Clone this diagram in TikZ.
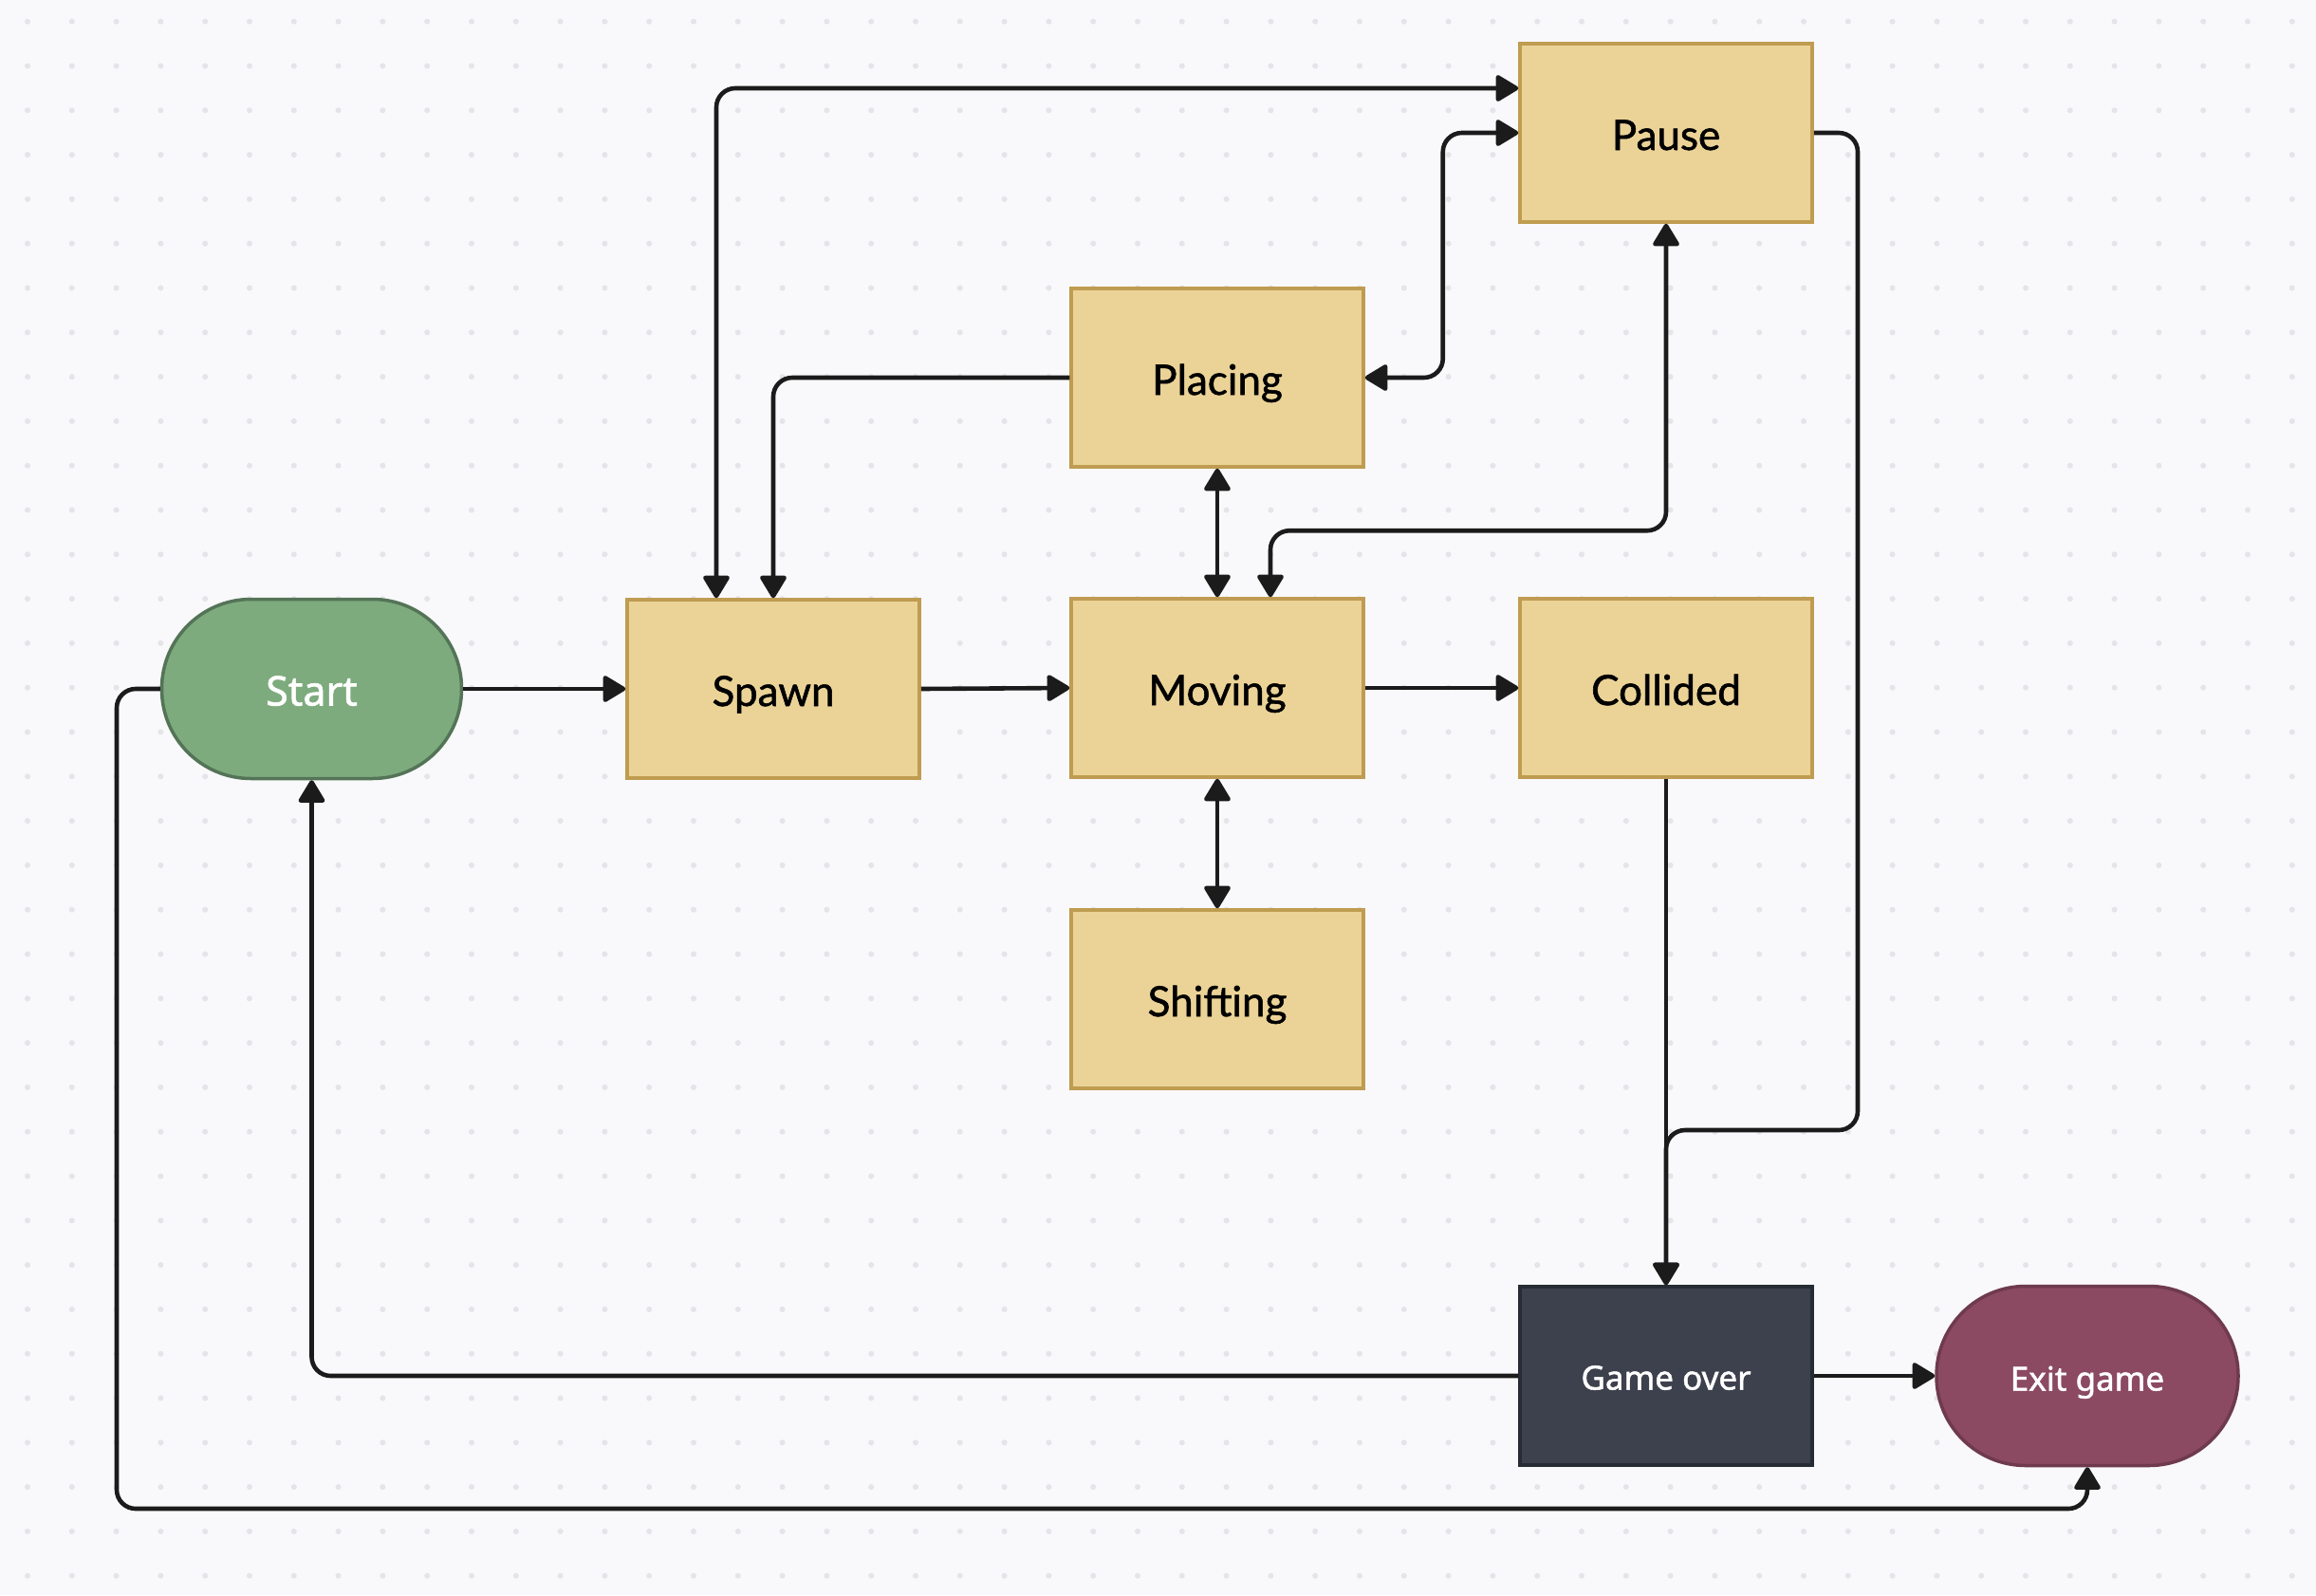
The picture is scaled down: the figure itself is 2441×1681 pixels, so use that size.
\documentclass[tikz,border=0pt]{standalone}
\usepackage{fontspec}
\usetikzlibrary{arrows.meta}
\newfontfamily\latofont{Lato}[FakeBold=1.3]
\newfontfamily\notofont{Noto Sans}[FakeBold=1.4]
\definecolor{bgc}{HTML}{F9F9FB}
\definecolor{dotc}{HTML}{E4E4E9}
\definecolor{goldfill}{HTML}{EBD397}
\definecolor{goldline}{HTML}{BF9C51}
\definecolor{startfill}{HTML}{7EAB7E}
\definecolor{startline}{HTML}{547457}
\definecolor{gofill}{HTML}{3D414D}
\definecolor{goline}{HTML}{272B33}
\definecolor{exitfill}{HTML}{8B4A62}
\definecolor{exitline}{HTML}{6F3A4E}
\definecolor{linec}{HTML}{1B1B1B}
\tikzset{
  statebox/.style={rectangle, draw=goldline, fill=goldfill, line width=3.5pt,
    minimum width=308pt, minimum height=188pt, inner sep=0pt,
    text height=36pt, text depth=0pt,
    font=\latofont\fontsize{44}{50}\selectfont, text=black},
  termbox/.style={rectangle, rounded corners=94pt, line width=3.5pt,
    minimum width=316pt, minimum height=189pt, inner sep=0pt, text=white},
  darkbox/.style={rectangle, draw=goline, fill=gofill, line width=3.5pt,
    minimum width=308pt, minimum height=188pt, inner sep=0pt, text=white,
    text height=29pt, text depth=0pt,
    font=\notofont\fontsize{35}{42}\selectfont},
  conn/.style={draw=linec, line width=4.6pt, rounded corners=20pt,
    arrows={-Triangle[length=26pt,width=30pt,round]}},
  dconn/.style={draw=linec, line width=4.6pt, rounded corners=20pt,
    arrows={Triangle[length=26pt,width=30pt,round]-Triangle[length=26pt,width=30pt,round]}}
}
\begin{document}
\begin{tikzpicture}[x=1pt,y=-1pt]
\useasboundingbox (0,0) rectangle (2441,1681);
\fill[bgc] (0,0) rectangle (2441,1681);
\foreach \i in {0,...,51} {
  \foreach \j in {0,...,35} {
    \fill[dotc] (29+\i*46.8, 22.7+\j*46.8) circle (3pt);
  }
}
% nodes
\node[termbox, draw=startline, fill=startfill, text height=35pt, text depth=0pt, font=\notofont\fontsize{43}{50}\selectfont] (start) at (328.5,726) {Start};
\node[statebox] (spawn) at (815,726) {Spawn};
\node[statebox] (moving) at (1283,725) {Moving};
\node[statebox] (collided) at (1756,725) {Collided};
\node[statebox] (placing) at (1283,398) {Placing};
\node[statebox] (pause) at (1756,140) {Pause};
\node[statebox] (shifting) at (1283,1053) {Shifting};
\node[darkbox] (gameover) at (1756,1450) {Game over};
\node[termbox, draw=exitline, fill=exitfill, minimum width=318pt, text height=31pt, text depth=0pt, font=\notofont\fontsize{35}{42}\selectfont] (exit) at (2200,1450) {Exit game};
\coordinate (pg) at (1958,1191);
\coordinate (se) at (123,1590);
% connectors
\draw[conn] (start.east) -- (spawn.west);
\draw[conn] (spawn.east) -- (moving.west);
\draw[conn] (moving.east) -- (collided.west);
\draw[dconn] (moving.north) -- (placing.south);
\draw[dconn] (moving.south) -- (shifting.north);
\draw[dconn] ([xshift=-60pt]spawn.north) |- ([yshift=47pt]pause.west);
\draw[conn] (placing.west) -| (spawn.north);
\draw[dconn] (placing.east) -- ++(82,0) |- (pause.west);
\draw[dconn] ([xshift=56pt]moving.north) -- ++(0,-70) -| (pause.south);
\draw[conn] (pause.east) -| (pg) -| (gameover.north);
\draw[conn] (collided.south) -- (gameover.north);
\draw[conn] (gameover.west) -| (start.south);
\draw[conn] (gameover.east) -- (exit.west);
\draw[conn] (start.west) -| (se) -| (exit.south);
\end{tikzpicture}
\end{document}
